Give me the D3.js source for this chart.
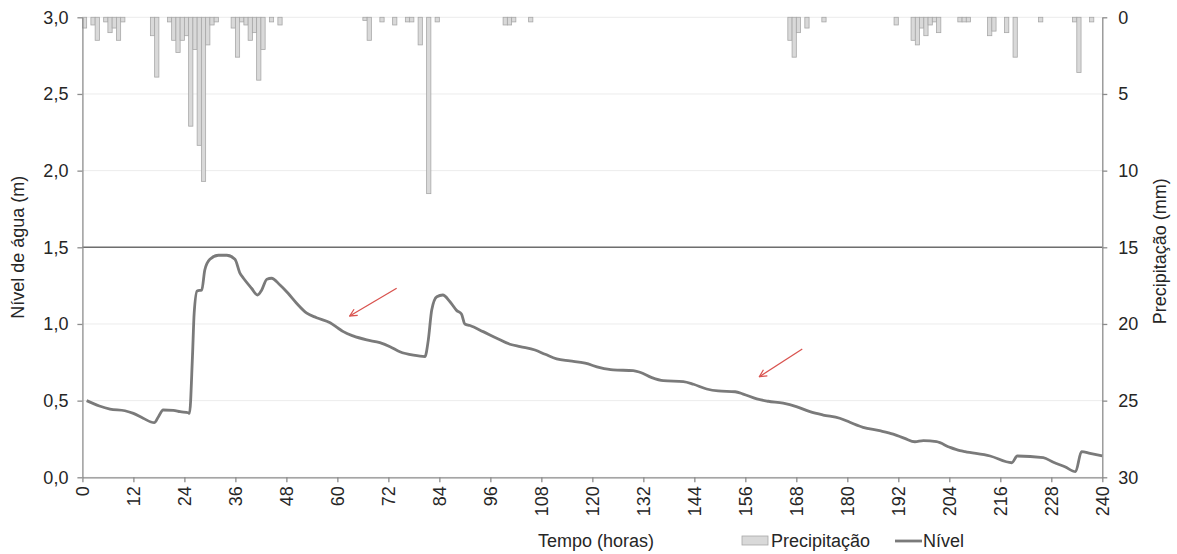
<!DOCTYPE html>
<html><head><meta charset="utf-8">
<script src="https://cdn.jsdelivr.net/npm/d3@7"></script>
<style>
body{margin:0;background:#fff;}
text{font-family:"Liberation Sans",Arial,sans-serif;fill:#262626;}
</style></head>
<body><svg id="c" width="1177" height="554"></svg>
<script>
// ---- data ----
const precipHours  = [0,2,3,5,6,7,8,9,16,17,20,21,22,23,24,25,26,27,28,29,30,31,35,36,37,38,39,40,41,42,44,46,66,67,70,73,76,77,79,81,83,99,100,101,105,166,167,168,170,174,191,195,196,197,198,199,200,201,206,207,208,213,214,217,219,225,233,234,237];
const precipValues = [0.7,0.5,1.5,0.3,1.0,0.7,1.5,0.3,1.2,3.9,0.3,1.5,2.3,1.5,1.2,7.1,2.1,8.35,10.7,1.8,0.5,0.3,0.7,2.6,0.3,0.5,1.5,1.0,4.1,2.1,0.3,0.5,0.2,1.5,0.3,0.5,0.3,0.3,1.8,11.5,0.3,0.5,0.5,0.3,0.3,1.5,2.6,1.0,0.7,0.3,0.5,1.5,1.8,0.7,1.2,0.5,0.3,1.0,0.3,0.3,0.3,1.2,0.9,1.0,2.6,0.3,0.3,3.6,0.3];
const nivelHours  = [1,4,6.5,10,12,14.3,16.9,17.9,19,21.4,23,24.9,25.2,25.9,26.3,27,28.1,28.8,30,32,34,35.9,37.1,37.9,39.8,41.2,42.2,43.4,44.5,46.5,48.4,50.4,52.8,55.1,58.3,60.2,61.4,63.7,66.9,70,72.4,74.7,77.9,80.6,81.4,82.2,83.4,84.8,86.5,88.1,89.2,90,91.2,94.3,97.5,100.6,103,106.5,108.9,111.6,114.7,118.3,121.8,124.9,129.6,131.2,134,136.7,141.4,143.8,146.9,149.6,153.6,155.5,158.7,161.4,164.9,168,171.2,174.3,178.2,180.6,183.7,187.6,190.8,193.5,195.9,197.9,201,204.1,206.5,207.7,213.6,218.7,220,226.1,228.5,231.2,233.7,235.1,237.1,240];
const nivelValues = [0.50,0.465,0.445,0.434,0.417,0.385,0.356,0.395,0.439,0.437,0.428,0.421,0.417,0.787,1.07,1.215,1.222,1.352,1.422,1.448,1.448,1.422,1.33,1.298,1.233,1.189,1.222,1.292,1.298,1.254,1.2,1.135,1.07,1.041,1.008,0.972,0.95,0.922,0.896,0.878,0.852,0.819,0.796,0.787,0.896,1.091,1.178,1.189,1.145,1.087,1.065,1.0,0.99,0.95,0.907,0.868,0.852,0.83,0.802,0.772,0.759,0.744,0.715,0.70,0.696,0.685,0.65,0.63,0.624,0.607,0.576,0.563,0.558,0.543,0.511,0.496,0.483,0.461,0.428,0.406,0.385,0.359,0.326,0.304,0.282,0.254,0.232,0.239,0.232,0.196,0.174,0.167,0.139,0.095,0.139,0.128,0.098,0.069,0.037,0.167,0.156,0.139];
const xTicks = [0,12,24,36,48,60,72,84,96,108,120,132,144,156,168,180,192,204,216,228,240];
const yLeftTicks = [0,0.5,1.0,1.5,2.0,2.5,3.0];
const yRightTicks = [0,5,10,15,20,25,30];
const thresholdLevel = 1.5;
// annotation arrows: [tailHour, tailLevel, headHour, headLevel]
const arrows = [[73.95,1.233,62.9,1.052],[169.4,0.837,159.3,0.656]];

// ---- layout ----
const svg = d3.select("#c");
const L = 82.4, R = 1102.3, T = 17.3, B = 477.3;
const x = d3.scaleLinear().domain([0,240]).range([L,R]);
const yL = d3.scaleLinear().domain([0,3]).range([B,T]);
const yR = d3.scaleLinear().domain([0,30]).range([T,B]);
const fmt = d => d3.format(".1f")(d).replace(".", ",");
const axisCol = "#8c8c8c";
const txtCol = "#262626";

// gridlines
svg.append("g").selectAll("line").data(yLeftTicks).join("line")
  .attr("x1",L).attr("x2",R).attr("y1",d=>yL(d)).attr("y2",d=>yL(d))
  .attr("stroke","#ececec").attr("stroke-width",1);

// bars
svg.append("g").selectAll("rect").data(precipHours.map((h,i)=>({h, v:precipValues[i]}))).join("rect")
  .attr("x",d=>x(d.h)).attr("width",d=>x(d.h+1)-x(d.h))
  .attr("y",yR(0)).attr("height",d=>yR(d.v)-yR(0))
  .attr("fill","#d9d9d9").attr("stroke","#a8a8a8").attr("stroke-width",0.8);

// threshold line
svg.append("line").attr("x1",L).attr("x2",R).attr("y1",yL(thresholdLevel)).attr("y2",yL(thresholdLevel))
  .attr("stroke","#6e6e6e").attr("stroke-width",1.4);

// level line
const line = d3.line().x(d=>x(d[0])).y(d=>yL(d[1])).curve(d3.curveMonotoneX);
svg.append("path").datum(nivelHours.map((h,i)=>[h,nivelValues[i]]))
  .attr("d",line).attr("fill","none").attr("stroke","#7a7a7a").attr("stroke-width",2.8)
  .attr("stroke-linejoin","round");

// arrows
const defs = svg.append("defs");
defs.append("marker").attr("id","ah").attr("viewBox","0 0 10 10").attr("refX",9).attr("refY",5)
  .attr("markerWidth",9).attr("markerHeight",9).attr("orient","auto").attr("markerUnits","userSpaceOnUse")
  .append("path").attr("d","M1,1 L9,5 L1,9").attr("fill","none").attr("stroke","#d9534f").attr("stroke-width",1.4);
svg.append("g").selectAll("line").data(arrows).join("line")
  .attr("x1",d=>x(d[0])).attr("y1",d=>yL(d[1])).attr("x2",d=>x(d[2])).attr("y2",d=>yL(d[3]))
  .attr("stroke","#d9534f").attr("stroke-width",1.3).attr("marker-end","url(#ah)");

// axes
const fs = "18px";
const gx = svg.append("g").attr("transform",`translate(0,${B})`)
  .call(d3.axisBottom(x).tickValues(xTicks).tickSize(5).tickSizeOuter(0).tickPadding(0));
gx.selectAll("text").attr("transform","rotate(-90)").attr("text-anchor","end")
  .attr("x",-9).attr("y",0).attr("dy","0.35em").style("font-size",fs);
const gl = svg.append("g").attr("transform",`translate(${L},0)`)
  .call(d3.axisLeft(yL).tickValues(yLeftTicks).tickFormat(fmt).tickSize(5).tickSizeOuter(0).tickPadding(9));
gl.selectAll("text").style("font-size",fs);
const gr = svg.append("g").attr("transform",`translate(${R},0)`)
  .call(d3.axisRight(yR).tickValues(yRightTicks).tickSize(5).tickSizeOuter(0).tickPadding(11));
gr.selectAll("text").style("font-size",fs);
[gx,gl,gr].forEach(g=>{g.selectAll("path,line").attr("stroke",axisCol).attr("stroke-width",1.3);
  g.selectAll("text").attr("fill",txtCol).style("font-family",'"Liberation Sans",Arial,sans-serif');});

// titles
svg.append("text").attr("x",596).attr("y",547).attr("text-anchor","middle").style("font-size",fs).text("Tempo (horas)");
svg.append("text").attr("transform",`translate(24,${(T+B)/2}) rotate(-90)`).attr("text-anchor","middle").style("font-size",fs).text("Nível de água (m)");
svg.append("text").attr("transform",`translate(1166,${(T+B)/2+4}) rotate(-90)`).attr("text-anchor","middle").style("font-size",fs).text("Precipitação (mm)");

// legend
const lg = svg.append("g");
lg.append("rect").attr("x",742).attr("y",536).attr("width",26).attr("height",9)
  .attr("fill","#d9d9d9").attr("stroke","#a8a8a8").attr("stroke-width",0.8);
lg.append("text").attr("x",771).attr("y",547).style("font-size",fs).text("Precipitação");
lg.append("line").attr("x1",895).attr("x2",922).attr("y1",541).attr("y2",541).attr("stroke","#7a7a7a").attr("stroke-width",2.8);
lg.append("text").attr("x",923).attr("y",547).style("font-size",fs).text("Nível");
</script></body></html>
